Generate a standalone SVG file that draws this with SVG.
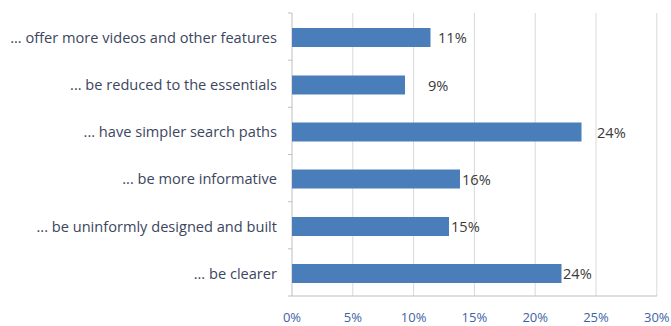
<svg xmlns="http://www.w3.org/2000/svg" width="671" height="326" viewBox="0 0 671 326">
<style>
.grid{stroke:#d9d9d9;stroke-width:1}
.axis{stroke:#bfbfbf;stroke-width:1}
.bar{fill:#4a7ebb}
.cat{font-family:"Open Sans",sans-serif;font-size:14.6px;fill:#3c4660;text-anchor:end}
.val{font-family:"Open Sans",sans-serif;font-size:14.6px;fill:#3a3a3a}
.tick{font-family:"Open Sans",sans-serif;font-size:13px;fill:#3d63a6;text-anchor:middle}
</style>
<rect width="671" height="326" fill="#fff"/>
<g id="grid">
<line class="grid" x1="352.8" y1="13" x2="352.8" y2="296"/>
<line class="grid" x1="413.6" y1="13" x2="413.6" y2="296"/>
<line class="grid" x1="474.4" y1="13" x2="474.4" y2="296"/>
<line class="grid" x1="535.2" y1="13" x2="535.2" y2="296"/>
<line class="grid" x1="596" y1="13" x2="596" y2="296"/>
<line class="grid" x1="656.8" y1="13" x2="656.8" y2="296"/>
</g>
<g id="axes">
<line class="axis" x1="292" y1="13" x2="292" y2="296"/>
<line class="axis" x1="292" y1="296" x2="657" y2="296"/>
<line class="axis" x1="288" y1="13" x2="292" y2="13"/>
<line class="axis" x1="288" y1="60.2" x2="292" y2="60.2"/>
<line class="axis" x1="288" y1="107.3" x2="292" y2="107.3"/>
<line class="axis" x1="288" y1="154.5" x2="292" y2="154.5"/>
<line class="axis" x1="288" y1="201.7" x2="292" y2="201.7"/>
<line class="axis" x1="288" y1="248.8" x2="292" y2="248.8"/>
<line class="axis" x1="288" y1="296" x2="292" y2="296"/>
</g>
<g id="bar1"><rect class="bar" x="292" y="28" width="138.5" height="19"/><text class="cat" x="277" y="42.5">... offer more videos and other features</text><text class="val" x="438" y="43">11%</text></g>
<g id="bar2"><rect class="bar" x="292" y="75.5" width="113" height="19"/><text class="cat" x="277" y="90">... be reduced to the essentials</text><text class="val" x="428" y="91">9%</text></g>
<g id="bar3"><rect class="bar" x="292" y="122.5" width="289.5" height="19"/><text class="cat" x="277" y="137">... have simpler search paths</text><text class="val" x="597" y="138">24%</text></g>
<g id="bar4"><rect class="bar" x="292" y="169.5" width="168" height="19"/><text class="cat" x="277" y="184">... be more informative</text><text class="val" x="462" y="185">16%</text></g>
<g id="bar5"><rect class="bar" x="292" y="217" width="157" height="19"/><text class="cat" x="277" y="231.5">... be uninformly designed and built</text><text class="val" x="451" y="232">15%</text></g>
<g id="bar6"><rect class="bar" x="292" y="264" width="269.5" height="19"/><text class="cat" x="277" y="278.5">... be clearer</text><text class="val" x="563" y="279">24%</text></g>
<g id="ticks">
<text class="tick" x="292" y="322">0%</text>
<text class="tick" x="352.8" y="322">5%</text>
<text class="tick" x="413.6" y="322">10%</text>
<text class="tick" x="474.4" y="322">15%</text>
<text class="tick" x="535.2" y="322">20%</text>
<text class="tick" x="596" y="322">25%</text>
<text class="tick" x="656.8" y="322">30%</text>
</g>
</svg>
